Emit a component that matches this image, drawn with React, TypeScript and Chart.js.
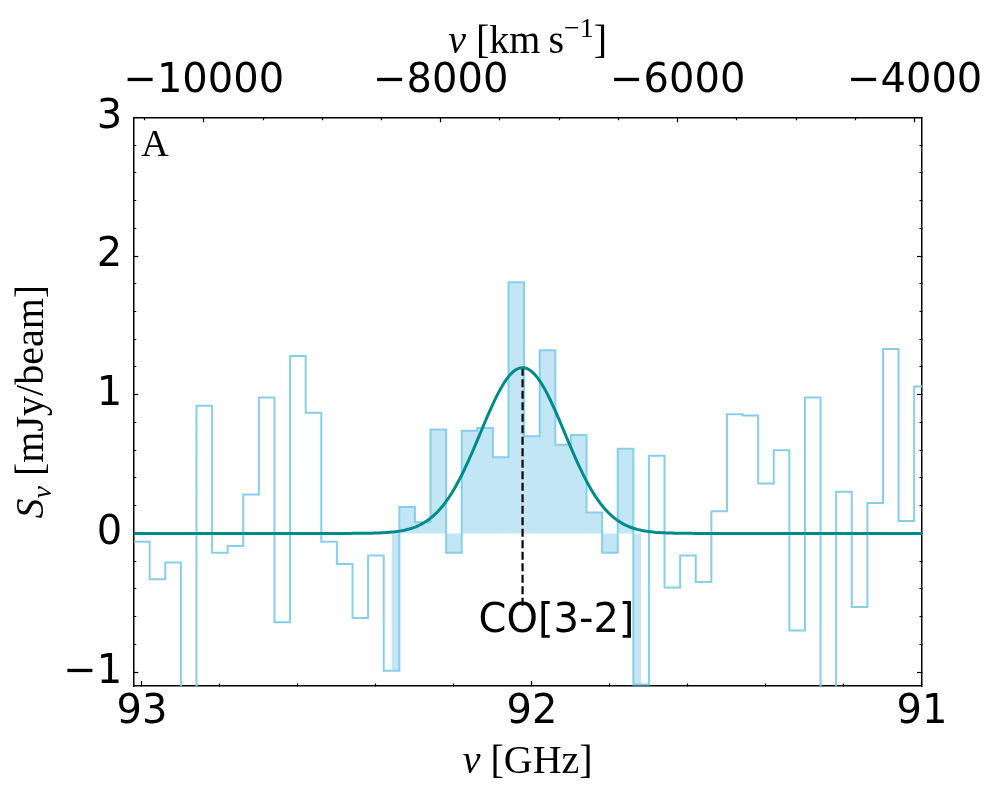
import React, { useEffect, useRef } from 'react';
import Chart, { ChartConfiguration, Plugin, Scale } from 'chart.js/auto';

// channel centres [GHz] and flux density per channel [mJy/beam]
const channelFreqs = [
  93.0, 92.96, 92.92, 92.88, 92.84, 92.8, 92.76, 92.72, 92.68, 92.64,
  92.6, 92.56, 92.52, 92.48, 92.44, 92.4, 92.36, 92.32, 92.28, 92.24,
  92.2, 92.16, 92.12, 92.08, 92.04, 92.0, 91.96, 91.92, 91.88, 91.84,
  91.8, 91.76, 91.72, 91.68, 91.64, 91.6, 91.56, 91.52, 91.48, 91.44,
  91.4, 91.36, 91.32, 91.28, 91.24, 91.2, 91.16, 91.12, 91.08, 91.04,
  91.0,
];
const channelFlux = [
  -0.06, -0.33, -0.21, -1.45, 0.92, -0.14, -0.09, 0.28, 0.98, -0.64,
  1.28, 0.87, -0.06, -0.22, -0.61, -0.16, -0.99, 0.19, 0.08, 0.75,
  -0.14, 0.74, 0.76, 0.55, 1.81, 0.7, 1.32, 0.64, 0.71, 0.15,
  -0.14, 0.61, -1.09, 0.56, -0.39, -0.16, -0.35, 0.16, 0.86, 0.85,
  0.36, 0.6, -0.7, 0.98, -1.4, 0.3, -0.53, 0.22, 1.33, 0.09,
  1.06,
];
const channelWidth = 0.04;

// channels shaded as line emission (indices, centre to centre)
const lineFirst = 16;
const lineLast = 32;

// gaussian fit to the line
const fitAmp = 1.195;
const fitCentre = 92.024;
const fitSigma = 0.108;
const markerBottom = -0.53;
const lineLabel = 'CO[3-2]';
const labelFreq = 91.937;
const labelFlux = -0.71;

// axis limits
const freqMin = 91;
const freqMax = 93.022;
const velMin = -10595;
const velMax = -3938;
const fluxMin = -1.1;
const fluxMax = 3;

const freqMajor = [93, 92, 91];
const freqMinor = [92.8, 92.6, 92.4, 92.2, 91.8, 91.6, 91.4, 91.2];
const velMajor = [-10000, -8000, -6000, -4000];
const velMinor = [-10500, -9500, -9000, -8500, -7500, -7000, -6500, -5500, -5000, -4500];
const fluxMajor = [-1, 0, 1, 2, 3];
const fluxMinor = [
  -0.8, -0.6, -0.4, -0.2, 0.2, 0.4, 0.6, 0.8, 1.2, 1.4, 1.6, 1.8, 2.2, 2.4, 2.6, 2.8,
];

const SKY = 'rgb(135,206,235)';
const SKY_FILL = 'rgba(135,206,235,0.5)';
const TEAL = '#008b8b';
const SERIF = '"Liberation Serif", "DejaVu Serif", serif';
const SANS = '"DejaVu Sans", sans-serif';

const MAJOR_LEN = 5;
const MINOR_LEN = 3;

const near = (list: number[], v: number) => list.some((m) => Math.abs(m - v) < 1e-6);
const fmt = (v: number) => String(v).replace('-', '\u2212');

const setTicks = (major: number[], minor: number[]) => (scale: Scale) => {
  scale.ticks = [...major, ...minor].sort((a, b) => a - b).map((value) => ({ value }));
};

// inward ticks; for left/top the tick path starts inside the plot
const tickGrid = (major: number[], startsInside: boolean) => ({
  drawOnChartArea: false,
  drawTicks: true,
  tickLength: -MAJOR_LEN,
  tickWidth: 1.2,
  tickColor: '#000',
  tickBorderDash: (ctx: any) =>
    near(major, ctx.tick.value)
      ? []
      : startsInside
      ? [0, MAJOR_LEN - MINOR_LEN, MINOR_LEN, 50]
      : [MINOR_LEN, 50],
});

const border = { display: true, color: '#000', width: 1.5 };
const tickFont = { family: SANS, size: 40 };

type Run = { text: string; font: string; dy?: number };

const drawRuns = (ctx: CanvasRenderingContext2D, runs: Run[], x: number, y: number) => {
  const widths = runs.map((r) => {
    ctx.font = r.font;
    return ctx.measureText(r.text).width;
  });
  let cx = x - widths.reduce((a, b) => a + b, 0) / 2;
  runs.forEach((r, i) => {
    ctx.font = r.font;
    ctx.fillText(r.text, cx, y + (r.dy || 0));
    cx += widths[i];
  });
};

const textPlugin: Plugin = {
  id: 'spectrumText',
  afterDraw(chart) {
    const { ctx, chartArea, scales } = chart;
    const midX = (chartArea.left + chartArea.right) / 2;
    const midY = (chartArea.top + chartArea.bottom) / 2;
    const roman = `40px ${SERIF}`;
    const italic = `italic 40px ${SERIF}`;
    ctx.save();
    ctx.fillStyle = '#000';
    ctx.textAlign = 'left';
    ctx.textBaseline = 'alphabetic';

    drawRuns(ctx, [
      { text: '\u03bd', font: italic },
      { text: ' [GHz]', font: roman },
    ], midX, 772.5);

    drawRuns(ctx, [
      { text: 'v', font: italic },
      { text: ' [km\u2009s', font: roman },
      { text: '\u22121', font: `28px ${SERIF}`, dy: -16 },
      { text: ']', font: roman },
    ], midX, 52.5);

    ctx.save();
    ctx.translate(43, midY);
    ctx.rotate(-Math.PI / 2);
    drawRuns(ctx, [
      { text: 'S', font: italic },
      { text: '\u03bd', font: `italic 28px ${SERIF}`, dy: 8 },
      { text: ' [mJy/beam]', font: roman },
    ], 0, 0);
    ctx.restore();

    ctx.font = `38px ${SERIF}`;
    ctx.fillText('A', chartArea.left + 8, chartArea.top + 39);

    ctx.font = `40px ${SANS}`;
    ctx.textAlign = 'center';
    ctx.fillText(lineLabel, scales.x.getPixelForValue(labelFreq), scales.y.getPixelForValue(labelFlux));
    ctx.restore();
  },
};

const App: React.FC = () => {
  const canvasRef = useRef<HTMLCanvasElement | null>(null);

  useEffect(() => {
    document.body.style.margin = '0';
    if (!canvasRef.current) return;

    const last = channelFreqs.length - 1;
    const stepPoints = [
      { x: channelFreqs[0] + channelWidth / 2, y: channelFlux[0] },
      ...channelFreqs.map((x, i) => ({ x, y: channelFlux[i] })),
      { x: channelFreqs[last] - channelWidth / 2, y: channelFlux[last] },
    ];
    const linePoints = channelFreqs
      .slice(lineFirst, lineLast + 1)
      .map((x, i) => ({ x, y: channelFlux[lineFirst + i] }));

    // fitted model curve sampled across the band
    const fitPoints: { x: number; y: number }[] = [];
    for (let f = freqMin; f <= freqMax + 1e-9; f += 0.005) {
      fitPoints.push({ x: f, y: fitAmp * Math.exp(-((f - fitCentre) ** 2) / (2 * fitSigma ** 2)) });
    }

    const config: ChartConfiguration<'line'> = {
      type: 'line',
      data: {
        datasets: [
          {
            data: fitPoints,
            borderColor: TEAL,
            borderWidth: 3,
            pointRadius: 0,
            order: 0,
          },
          {
            data: [
              { x: fitCentre, y: fitAmp },
              { x: fitCentre, y: markerBottom },
            ],
            borderColor: '#000',
            borderWidth: 2.2,
            borderDash: [8, 3.5],
            pointRadius: 0,
            order: 1,
          },
          {
            data: stepPoints,
            stepped: 'middle',
            borderColor: SKY,
            borderWidth: 2,
            pointRadius: 0,
            order: 2,
          },
          {
            data: linePoints,
            stepped: 'middle',
            borderWidth: 0,
            backgroundColor: SKY_FILL,
            fill: { value: 0 },
            pointRadius: 0,
            order: 3,
          },
        ],
      },
      options: {
        animation: false,
        responsive: false,
        events: [],
        layout: { padding: 0 },
        plugins: { legend: { display: false }, tooltip: { enabled: false } },
        scales: {
          x: {
            type: 'linear',
            position: 'bottom',
            reverse: true,
            min: freqMin,
            max: freqMax,
            afterBuildTicks: setTicks(freqMajor, freqMinor),
            afterFit: (s: Scale) => { s.height = 114; },
            ticks: {
              autoSkip: false,
              maxRotation: 0,
              padding: 8,
              color: '#000',
              font: tickFont,
              callback: (v) => (near(freqMajor, Number(v)) ? fmt(Number(v)) : ''),
            },
            grid: tickGrid(freqMajor, false),
            border,
          },
          x2: {
            type: 'linear',
            axis: 'x',
            position: 'top',
            min: velMin,
            max: velMax,
            afterBuildTicks: setTicks(velMajor, velMinor),
            afterFit: (s: Scale) => { s.height = 117.3; },
            ticks: {
              autoSkip: false,
              maxRotation: 0,
              padding: 17,
              color: '#000',
              font: tickFont,
              callback: (v) => (near(velMajor, Number(v)) ? fmt(Number(v)) : ''),
            },
            grid: tickGrid(velMajor, true),
            border,
          },
          y: {
            type: 'linear',
            position: 'left',
            min: fluxMin,
            max: fluxMax,
            afterBuildTicks: setTicks(fluxMajor, fluxMinor),
            afterFit: (s: Scale) => { s.width = 133.3; },
            ticks: {
              autoSkip: false,
              padding: 16,
              color: '#000',
              font: tickFont,
              callback: (v) => (near(fluxMajor, Number(v)) ? fmt(Number(v)) : ''),
            },
            grid: tickGrid(fluxMajor, true),
            border,
          },
          y2: {
            type: 'linear',
            axis: 'y',
            position: 'right',
            min: fluxMin,
            max: fluxMax,
            afterBuildTicks: setTicks(fluxMajor, fluxMinor),
            afterFit: (s: Scale) => { s.width = 77.5; },
            ticks: { display: false },
            grid: tickGrid(fluxMajor, false),
            border,
          },
        },
      },
      plugins: [textPlugin],
    };

    const chart = new Chart(canvasRef.current, config);
    return () => {
      chart.destroy();
    };
  }, []);

  return (
    <div style={{ width: 1000, height: 800 }}>
      <canvas ref={canvasRef} width={1000} height={800}></canvas>
    </div>
  );
};

export default App;
